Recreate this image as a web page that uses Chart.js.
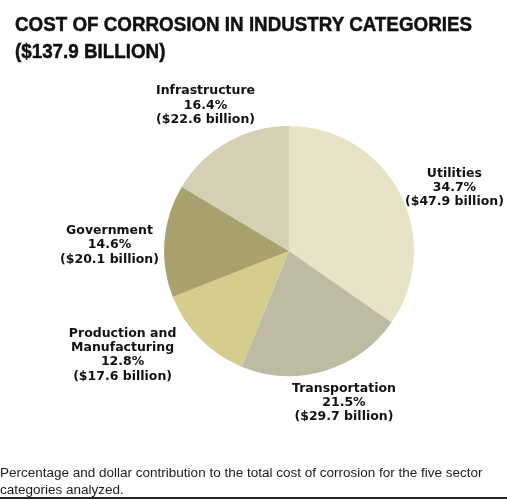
<!DOCTYPE html>
<html>
<head>
<meta charset="utf-8">
<script src="https://cdn.jsdelivr.net/npm/chart.js@4"></script>
<style>
  body { margin: 0; background: #fff; }
  #wrap { position: relative; width: 507px; height: 500px; overflow: hidden; }
  #title { position: absolute; left: 15px; top: 9.5px; font-family: "Liberation Sans", Arial, sans-serif; font-weight: bold; font-size: 21px; line-height: 27px; color: #111; white-space: nowrap; transform-origin: 0 0; -webkit-text-stroke: 0.5px #111; }
  #chartBox { position: absolute; left: 0; top: 0; width: 507px; height: 500px; }
  #caption { position: absolute; left: 0; top: 464px; width: 507px; font-family: "Liberation Sans", Arial, sans-serif; font-size: 13.5px; line-height: 17px; color: #1a1a1a; white-space: nowrap; }
  #rule { position: absolute; left: 0; top: 497px; width: 507px; height: 2px; background: #222; }
</style>
</head>
<body>
<div id="wrap">
  <div id="chartBox"><canvas id="pie"></canvas></div>
  <div id="title"><span id="t1">COST OF CORROSION IN INDUSTRY CATEGORIES</span><br>($137.9 BILLION)</div>
  <div id="caption">Percentage and dollar contribution to the total cost of corrosion for the five sector<br>categories analyzed.</div>
  <div id="rule"></div>
</div>
<script>
// Datos del gráfico
const categories = ['Utilities', 'Transportation', 'Production and Manufacturing', 'Government', 'Infrastructure'];
const percents = [34.7, 21.5, 12.8, 14.6, 16.4];
const billions = [47.9, 29.7, 17.6, 20.1, 22.6];
const nameLines = [['Utilities'], ['Transportation'], ['Production and', 'Manufacturing'], ['Government'], ['Infrastructure']];
const sliceColors = ['#e8e3c6', '#bdbba2', '#d6cd8d', '#a9a26e', '#d5cfb6'];

// Ajuste de cada etiqueta: giro (grados) y distancia al centro
const labelTweak = [
    { da: 6.7, dist: 177 },
    { da: -3.5, dist: 161.6 },
    { da: 12.6, dist: 196.3 },
    { da: -2.8, dist: 179.6 },
    { da: -0.3, dist: 167.8 }
];

const sliceLabels = {
    id: 'sliceLabels',
    afterDatasetsDraw(chart) {
        const ctx = chart.ctx;
        const arcs = chart.getDatasetMeta(0).data;
        ctx.save();
        ctx.font = 'bold 12.5px "DejaVu Sans", sans-serif';
        ctx.fillStyle = '#111';
        ctx.textAlign = 'center';
        ctx.textBaseline = 'middle';
        arcs.forEach(function(arc, i) {
            const mid = (arc.startAngle + arc.endAngle) / 2 + labelTweak[i].da * Math.PI / 180;
            const cx = arc.x + Math.cos(mid) * labelTweak[i].dist;
            const cy = arc.y + Math.sin(mid) * labelTweak[i].dist;
            const lines = nameLines[i].concat([percents[i].toFixed(1) + '%', '($' + billions[i].toFixed(1) + ' billion)']);
            const lh = 14.2;
            const top = cy - (lines.length - 1) * lh / 2;
            lines.forEach(function(t, k) {
                ctx.fillText(t, cx, top + k * lh);
            });
        });
        ctx.restore();
    }
};

document.addEventListener('DOMContentLoaded', function() {
    // Título condensado: se estrecha hasta el ancho del original
    const t1 = document.getElementById('t1');
    const w = t1.getBoundingClientRect().width;
    document.getElementById('title').style.transform = 'scaleX(' + (457 / w) + ')';

    const pieCtx = document.getElementById('pie');

    const pieConfig = {
        type: 'pie',
        data: {
            labels: categories,
            datasets: [{
                data: percents,
                backgroundColor: sliceColors,
                borderWidth: 0
            }]
        },
        options: {
            responsive: true,
            maintainAspectRatio: false,
            animation: false,
            events: [],
            layout: {
                padding: { left: 164, top: 126, right: 93, bottom: 124 }
            },
            plugins: {
                legend: { display: false },
                tooltip: { enabled: false }
            }
        },
        plugins: [sliceLabels]
    };

    window.myPie = new Chart(pieCtx, pieConfig);
});
</script>
</body>
</html>
